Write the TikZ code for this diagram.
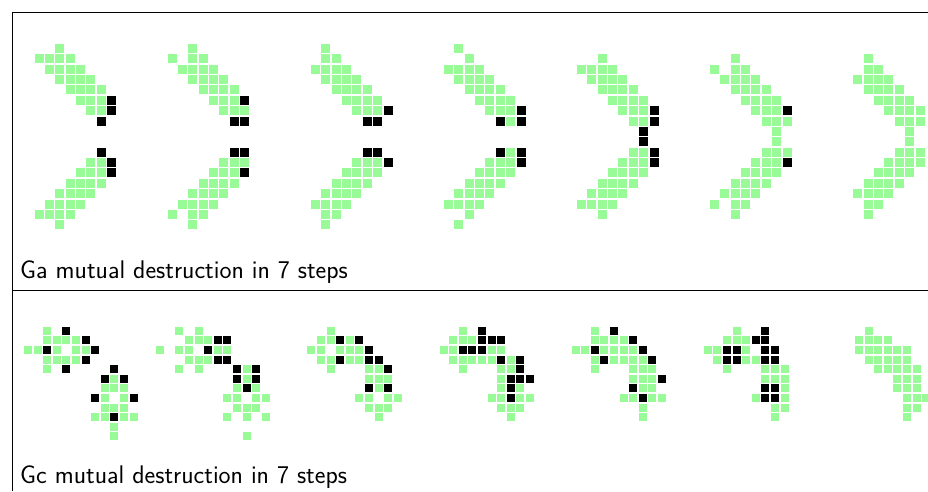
\documentclass[tikz,border=0pt]{standalone}
\usepackage{fontspec}
\definecolor{palegreen}{HTML}{98FB98}
\tikzset{
  alive/.style={fill=palegreen},
  excited/.style={fill=black},
  caption/.style={anchor=base west, inner sep=0pt, font=\sffamily\fontsize{25.5}{30}\selectfont},
  frameline/.style={line width=1pt, black}
}
% top row: Ga gliders, drawn as a top half and its mirror (rows r and 17-r)
\newcommand{\gaframe}[3]{%
  \foreach \c/\r in {#2} {
    \fill[alive] ({34.6+133*(#1-1)+10.37*\c},{44+10.37*\r}) rectangle +(9,9);
    \fill[alive] ({34.6+133*(#1-1)+10.37*\c},{44+10.37*(17-\r)}) rectangle +(9,9);
  }
  \foreach \c/\r in {#3} {
    \fill[excited] ({34.6+133*(#1-1)+10.37*\c},{44+10.37*\r}) rectangle +(9,9);
    \fill[excited] ({34.6+133*(#1-1)+10.37*\c},{44+10.37*(17-\r)}) rectangle +(9,9);
  }
}
% bottom row: Gc gliders
\newcommand{\gcframe}[3]{%
  \foreach \c/\r in {#2}
    \fill[alive] ({24+132.1*(#1-1)+9.6*\c},{326.7+9.6*\r}) rectangle +(8,8);
  \foreach \c/\r in {#3}
    \fill[excited] ({24+132.1*(#1-1)+9.6*\c},{326.7+9.6*\r}) rectangle +(8,8);
}
\begin{document}
\begin{tikzpicture}[x=1pt,y=-1pt]
  \useasboundingbox (0,0) rectangle (928,491);

  % panel lines
  \draw[frameline] (928,12) -- (12,12) -- (12,491);
  \draw[frameline] (12,290) -- (928,290);

  % Ga mutual destruction
  \gaframe{1}{2/0, 0/1,1/1,2/1,3/1, 1/2,2/2,3/2,4/2, 2/3,3/3,4/3,5/3, 3/4,4/4,5/4,6/4, 4/5,5/5,6/5, 5/6,6/6}{7/5, 7/6, 6/7}
  \gaframe{2}{2/0, 0/1,2/1,3/1, 1/2,2/2,3/2,4/2, 2/3,3/3,4/3,5/3, 3/4,4/4,5/4,6/4, 4/5,5/5,6/5, 5/6,6/6,7/6}{7/5, 6/7,7/7}
  \gaframe{3}{2/0, 2/1,3/1, 1/2,2/2,3/2,4/2, 2/3,3/3,4/3,5/3, 3/4,4/4,5/4,6/4, 4/5,5/5,6/5,7/5, 5/6,6/6,7/6}{8/6, 6/7,7/7}
  \gaframe{4}{2/0, 3/1, 1/2,2/2,3/2,4/2, 2/3,3/3,4/3,5/3, 3/4,4/4,5/4,6/4, 4/5,5/5,6/5,7/5, 5/6,6/6,7/6, 7/7}{8/6, 6/7,8/7}
  \gaframe{5}{3/1, 1/2,2/2,3/2,4/2, 2/3,3/3,4/3,5/3, 3/4,4/4,5/4,6/4, 4/5,5/5,6/5,7/5, 5/6,6/6,7/6, 6/7,7/7}{8/6, 8/7, 7/8}
  \gaframe{6}{3/1, 1/2,3/2,4/2, 2/3,3/3,4/3,5/3, 3/4,4/4,5/4,6/4, 4/5,5/5,6/5,7/5, 5/6,6/6,7/6, 6/7,7/7,8/7, 7/8}{8/6}
  \gaframe{7}{3/1, 3/2,4/2, 2/3,3/3,4/3,5/3, 3/4,4/4,5/4,6/4, 4/5,5/5,6/5,7/5, 5/6,6/6,7/6,8/6, 6/7,7/7,8/7, 7/8}{}

  \node[caption] (galabel) at (20,278) {Ga mutual destruction in 7 steps};

  % Gc mutual destruction
  \gcframe{1}{2/0, 2/1,3/1,4/1,5/1, 0/2,1/2,3/2,5/2,6/2, 2/3,3/3,4/3,5/3, 2/4,
    9/5, 8/6,9/6,10/6, 8/7,10/7, 8/8,9/8,10/8, 7/9,8/9,10/9,11/9, 9/10, 9/11}
    {4/0, 6/1, 2/2,7/2, 6/3, 4/4,9/4, 8/5,10/5, 7/7,11/7, 9/9}
  \gcframe{2}{2/0,4/0, 3/1,4/1,5/1, 0/2,2/2,3/2,6/2,7/2, 3/3,4/3,5/3, 2/4,4/4,9/4,
    9/5, 8/6,10/6, 7/7,8/7,10/7,11/7, 8/8,9/8,10/8, 7/9,9/9,11/9, 9/11}
    {6/1,7/1, 5/2, 6/3,7/3, 8/4,10/4, 8/5,10/5, 9/6}
  \gcframe{3}{4/0, 3/1,4/1,6/1, 2/2,3/2,5/2,6/2,7/2, 3/3,4/3,6/3,7/3, 4/4,8/4,9/4,
    8/5,9/5,10/5, 9/6, 7/7,8/7,10/7,11/7, 8/8,9/8,10/8, 9/9}
    {5/1,7/1, 8/2, 5/3,8/3,9/3, 10/4, 8/6,10/6}
  \gcframe{4}{4/0, 3/1,4/1,5/1, 2/2,3/2,7/2,8/2, 3/3,4/3,5/3,6/3,7/3,9/3, 4/4,8/4,9/4,
    8/5, 8/6,10/6, 7/7,8/7,10/7,11/7, 8/8,9/8,10/8, 9/9}
    {6/0, 6/1,7/1,8/1, 4/2,5/2,6/2, 8/3,10/3, 10/4, 9/5,10/5,11/5, 9/6, 9/7}
  \gcframe{5}{4/0, 4/1,5/1,6/1,7/1, 2/2,3/2,5/2,6/2,7/2,8/2, 4/3,6/3,7/3,8/3,9/3, 4/4,8/4,9/4,10/4,
    8/5,9/5,10/5, 9/6,10/6, 7/7,8/7,10/7,11/7, 9/8, 9/9}
    {6/0, 8/1, 4/2,9/2, 5/3,10/3, 11/5, 8/6, 9/7}
  \gcframe{6}{5/0, 4/1,5/1,6/1, 2/2,3/2,6/2, 3/3,6/3,7/3, 4/4,8/4,9/4,10/4,
    8/5,9/5,10/5, 10/6, 7/7,10/7, 9/8,10/8, 9/9}
    {8/0, 7/1,8/1, 4/2,5/2,8/2,9/2, 4/3,5/3,8/3,9/3, 8/6,9/6, 8/7,9/7}
  \gcframe{7}{5/0, 4/1,5/1,6/1,7/1, 4/2,5/2,6/2,7/2,8/2,9/2, 5/3,6/3,7/3,8/3,9/3, 6/4,7/4,8/4,9/4,10/4,
    8/5,9/5,10/5, 8/6,9/6,10/6, 9/7,10/7,11/7, 9/8,10/8, 9/9}{}

  \node[caption] (gclabel) at (20,483) {Gc mutual destruction in 7 steps};
\end{tikzpicture}
\end{document}
